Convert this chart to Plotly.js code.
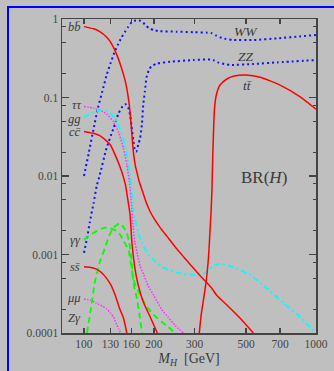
<!DOCTYPE html>
<html>
<head>
<meta charset="utf-8">
<script src="https://cdn.plot.ly/plotly-3.0.1.min.js"></script>
<style>
html,body{margin:0;padding:0;background:#bfbfbf;}
#chart{width:334px;height:371px;}
#frame{position:absolute;left:7px;top:6px;width:330px;height:370px;border-left:2px solid #0000ff;border-top:2px solid #0000ff;pointer-events:none;}
</style>
</head>
<body>
<div id="chart"></div>
<div id="frame"></div>
<script>
// Higgs mass values (GeV) and branching ratios per channel
const bbM  = [100,110,117,125,130,138,145,150,153,156,158,160,162,164,167,170,173,180,186,193,200,213,228,250,269,290,316,338,356,374,413,470,537];
const bbBR = [0.80,0.75,0.69,0.59,0.51,0.36,0.24,0.17,0.13,0.09,0.065,0.042,0.026,0.018,0.013,0.0105,0.0085,0.006,0.0045,0.0035,0.0029,0.0022,0.0017,0.0012,0.00093,0.00072,0.00054,0.00044,0.00037,0.0003,0.000227,0.000155,0.0001];

const ccM  = [100,110,117,125,130,138,145,151,155,158,161,166,170,180,193,207];
const ccBR = [0.037,0.035,0.0327,0.028,0.0248,0.017,0.0117,0.0077,0.0047,0.0032,0.0014,0.00065,0.00045,0.00025,0.00016,0.0001];

const ssM  = [100,106,112,118,123,130,136,142,148,153];
const ssBR = [0.0007,0.00069,0.00066,0.0006,0.00053,0.00042,0.00031,0.00021,0.000155,0.0001];

const ttM  = [314,320,327,333,338,344,349,353,356,359,362,365,370,378,386,413,440,500,575,700,855,1000];
const ttBR = [0.0001,0.00017,0.00026,0.00037,0.00052,0.0009,0.0019,0.0035,0.0065,0.018,0.04,0.07,0.10,0.127,0.144,0.172,0.186,0.193,0.181,0.144,0.102,0.071];

const tauM  = [100,110,117,125,134,141,148,153,157,160,163,166,170,175,181,189,200,216,230,247,268];
const tauBR = [0.077,0.073,0.069,0.062,0.049,0.036,0.0225,0.014,0.0085,0.0045,0.0022,0.0014,0.001,0.0007,0.00055,0.0004,0.0003,0.0002,0.00016,0.000125,0.0001];

const muM  = [100,107,113,120,125,130,134,138,141,144];
const muBR = [0.00027,0.000262,0.00024,0.00022,0.000205,0.00018,0.00016,0.00013,0.000113,0.0001];

const ggM  = [100,110,119,125,130,136,143,150,155,158,160,163,166,171,178,189,200,215,230,250,270,300,320,335,345,360,375,393,420,456,521,615,725,855,1000];
const ggBR = [0.056,0.065,0.069,0.067,0.063,0.054,0.040,0.025,0.0152,0.0105,0.0075,0.0038,0.0028,0.0019,0.0014,0.001,0.00085,0.00071,0.00064,0.00059,0.00056,0.00055,0.00056,0.00059,0.00064,0.00071,0.00075,0.00076,0.00072,0.00066,0.00055,0.00037,0.00024,0.00016,0.0001];

const gamM  = [100,107,114,120,127,133,138,143,148,152,155,158,160,163,167,171.5,180,189,200,216,230,247];
const gamBR = [0.00154,0.0018,0.002,0.00215,0.0022,0.0021,0.002,0.0018,0.0015,0.0013,0.0012,0.0009,0.0007,0.0005,0.0004,0.00034,0.00026,0.000207,0.00017,0.000139,0.00012,0.0001];

const zgM  = [103,107,111.5,117,123,128,134,139,143,147,150,153,156,158,161,163,166,169,173,178];
const zgBR = [0.0001,0.0002,0.00045,0.0008,0.0012,0.0017,0.0022,0.0024,0.0025,0.0023,0.0021,0.0019,0.0015,0.0012,0.00074,0.00045,0.00035,0.00028,0.00018,0.0001];

const wwM  = [100,105,110,115,120,125,130,135,140,145,150,155,160,165,170,175,180,185,190,200,213,250,296,340,355,370,386,410,440,540,680,850,1000];
const wwBR = [0.01,0.02,0.04,0.075,0.12,0.19,0.27,0.37,0.47,0.58,0.68,0.79,0.90,0.95,0.96,0.95,0.90,0.82,0.77,0.72,0.70,0.69,0.68,0.67,0.66,0.62,0.585,0.555,0.54,0.54,0.567,0.60,0.625];

const zzM  = [100,103,106,110,113.5,117,125,134,141,148,151,155,158,160,163,166,168,171.5,174.5,177.6,180,183,186,190,195,206,235,296,350,365,380,425,537,680,1000];
const zzBR = [0.00105,0.0016,0.0026,0.0045,0.0075,0.0103,0.0225,0.0405,0.063,0.08,0.082,0.075,0.06,0.045,0.029,0.021,0.0205,0.0255,0.03,0.045,0.08,0.12,0.18,0.22,0.25,0.27,0.285,0.30,0.305,0.295,0.278,0.26,0.267,0.28,0.30];

const xTicks = [100,130,160,200,300,500,700,1000];
const yTicks = [1,0.1,0.01,0.001,0.0001];
const yTickText = ['1','0.1','0.01','0.001','0.0001'];

const RED = '#ff0000', BLUE = '#1010ff', MAG = '#ff30ff', CYAN = '#00ffff', GREEN = '#00ff00';
function tr(x, y, color, width, dash) {
  return {x: x, y: y, type: 'scatter', mode: 'lines', hoverinfo: 'skip',
          line: {color: color, width: width, dash: dash, shape: 'spline', smoothing: 0.5}};
}
const data = [
  tr(wwM, wwBR, BLUE, 2, '2px,3px'),
  tr(zzM, zzBR, BLUE, 2, '2px,3px'),
  tr(tauM, tauBR, MAG, 1.5, '1.5px,1.5px'),
  tr(muM, muBR, MAG, 1.5, '1.5px,1.5px'),
  tr(ggM, ggBR, CYAN, 1.8, '6px,3px,2px,3px'),
  tr(gamM, gamBR, GREEN, 1.8, '6px,4px'),
  tr(zgM, zgBR, GREEN, 1.8, '6px,4px'),
  tr(bbM, bbBR, RED, 1.5, 'solid'),
  tr(ccM, ccBR, RED, 1.5, 'solid'),
  tr(ssM, ssBR, RED, 1.5, 'solid'),
  tr(ttM, ttBR, RED, 1.5, 'solid')
];

const minorY = [];
[1,0.1,0.01,0.001].forEach(d => { minorY.push(0.8*d, 0.5*d, 0.2*d); });

const L = 62, R = 316, T = 19, B = 333;
function px(x){ return (x - L) / (R - L); }
function py(y){ return (B - y) / (B - T); }
const labFont = {family: 'Liberation Serif, DejaVu Serif, serif', size: 12.5, color: '#3a3a3a'};
function lab(text, x, y, anchor, font) {
  return {text: text, xref: 'paper', yref: 'paper', x: px(x), y: py(y), xanchor: anchor, yanchor: 'middle',
          showarrow: false, borderpad: 0, font: font || labFont};
}
const annotations = [
  lab('<i>bb̄</i>', 82, 27, 'right'),
  lab('<i>ττ</i>', 82, 105, 'right'),
  lab('<i>gg</i>', 82, 118.5, 'right'),
  lab('<i>cc̄</i>', 82, 132, 'right'),
  lab('<i>γγ</i>', 82, 240, 'right'),
  lab('<i>ss̄</i>', 82, 267, 'right'),
  lab('<i>μμ</i>', 82, 298, 'right'),
  lab('<i>Zγ</i>', 82, 318, 'right'),
  lab('<i>WW</i>', 246, 32, 'center', {family: 'Liberation Serif, DejaVu Serif, serif', size: 13.5, color: '#3a3a3a'}),
  lab('<i>ZZ</i>', 246, 57, 'center', {family: 'Liberation Serif, DejaVu Serif, serif', size: 13.5, color: '#3a3a3a'}),
  lab('<i>tt̄</i>', 247, 86, 'center', {family: 'Liberation Serif, DejaVu Serif, serif', size: 13.5, color: '#3a3a3a'}),
  lab('BR(<i>H</i>)', 264, 177, 'center', {family: 'Liberation Serif, DejaVu Serif, serif', size: 17, color: '#3a3a3a'})
];

const axisCommon = {
  showgrid: false, zeroline: false, showline: true, linecolor: '#444', linewidth: 1.5,
  ticks: 'inside', mirror: 'ticks', tickcolor: '#444', tickwidth: 1.5,
  tickfont: {family: 'Liberation Serif, DejaVu Serif, serif', size: 11.5, color: '#444'}
};
const layout = {
  width: 334, height: 371,
  margin: {l: L, r: 334 - R, t: T, b: 371 - B, pad: 0},
  paper_bgcolor: '#bfbfbf', plot_bgcolor: '#bfbfbf',
  showlegend: false,
  xaxis: Object.assign({}, axisCommon, {
    type: 'log', range: [Math.log10(80.4), 3],
    tickmode: 'array', tickvals: xTicks, ticktext: xTicks.map(String), ticklen: 5,
    title: {text: '<i>M</i><sub><i>H</i></sub>  [GeV]', standoff: 4,
            font: {family: 'Liberation Serif, DejaVu Serif, serif', size: 14, color: '#3a3a3a'}}
  }),
  yaxis: Object.assign({}, axisCommon, {
    type: 'log', range: [-4, 0],
    tickmode: 'array', tickvals: yTicks, ticktext: yTickText, ticklen: 7,
    minor: {tickmode: 'array', tickvals: minorY, ticks: 'inside', ticklen: 3.5, tickcolor: '#444', tickwidth: 1.2, showgrid: false}
  }),
  annotations: annotations
};
Plotly.newPlot('chart', data, layout, {displayModeBar: false, staticPlot: true});
</script>
</body>
</html>
